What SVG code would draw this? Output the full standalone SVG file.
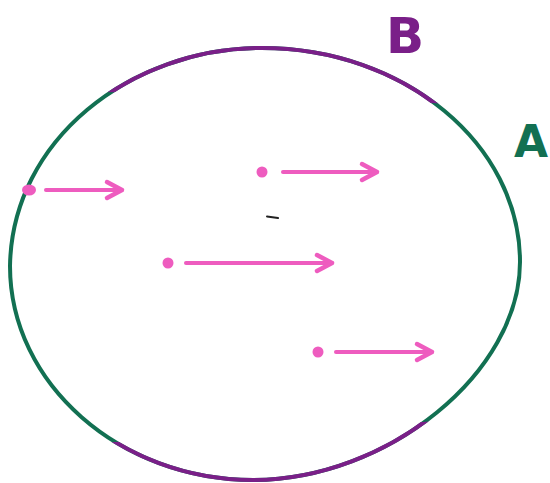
<svg xmlns="http://www.w3.org/2000/svg" width="550" height="483" viewBox="0 0 550 483">
  <style>
    .rim { fill: none; stroke-width: 4; stroke-linecap: round; }
    .green { stroke: #127052; }
    .purple { stroke: #7a1f88; }
    .vec { stroke: #ee5cbf; stroke-width: 4; stroke-linecap: round; fill: none; }
    .dot { fill: #ee5cbf; }
    .lbl { font-family: "DejaVu Sans", "Liberation Sans", sans-serif; font-weight: bold; }
  </style>
  <defs>
    <marker id="head" markerUnits="userSpaceOnUse" markerWidth="30" markerHeight="30" refX="0" refY="0" viewBox="-20 -15 30 30" orient="auto" overflow="visible">
      <path d="M-15,-8 L0,0 L-15,8" fill="none" stroke="#ee5cbf" stroke-width="4.5" stroke-linecap="round" stroke-linejoin="round"/>
    </marker>
    <clipPath id="arcs">
      <polygon points="0,0 550,0 550,107 0,88.4"/>
      <polygon points="0,449.6 550,413.5 550,483 0,483"/>
    </clipPath>
    <path id="rimPath" d="M262,48 C404,48 520,144 520,262 C520,372 388,480 253,480 C120,480 10,384 10,266 C12,140 130,48 262,48 Z"/>
  </defs>

  <g id="circle">
    <use href="#rimPath" class="rim green"/>
    <use href="#rimPath" class="rim purple" clip-path="url(#arcs)"/>
  </g>

  <g id="label-B">
    <text class="lbl" x="386" y="53" font-size="50" fill="#7a1f88">B</text>
  </g>
  <g id="label-A">
    <text class="lbl" x="514" y="157" font-size="44" fill="#127052">A</text>
  </g>

  <g id="points">
    <ellipse class="dot" cx="29" cy="190" rx="7" ry="5.5"/>
    <circle class="dot" cx="262" cy="172" r="5.5"/>
    <circle class="dot" cx="168" cy="263" r="5.5"/>
    <circle class="dot" cx="318" cy="352" r="5.5"/>
  </g>

  <g id="connectors">
    <line class="vec" x1="46" y1="190" x2="122" y2="190" marker-end="url(#head)"/>
    <line class="vec" x1="283" y1="172" x2="377" y2="172" marker-end="url(#head)"/>
    <line class="vec" x1="186" y1="263" x2="332" y2="263" marker-end="url(#head)"/>
    <line class="vec" x1="336" y1="352" x2="432" y2="352" marker-end="url(#head)"/>
  </g>

  <g id="mark">
    <line x1="267" y1="216.5" x2="278" y2="218" stroke="#222" stroke-width="2" stroke-linecap="round"/>
  </g>
</svg>
